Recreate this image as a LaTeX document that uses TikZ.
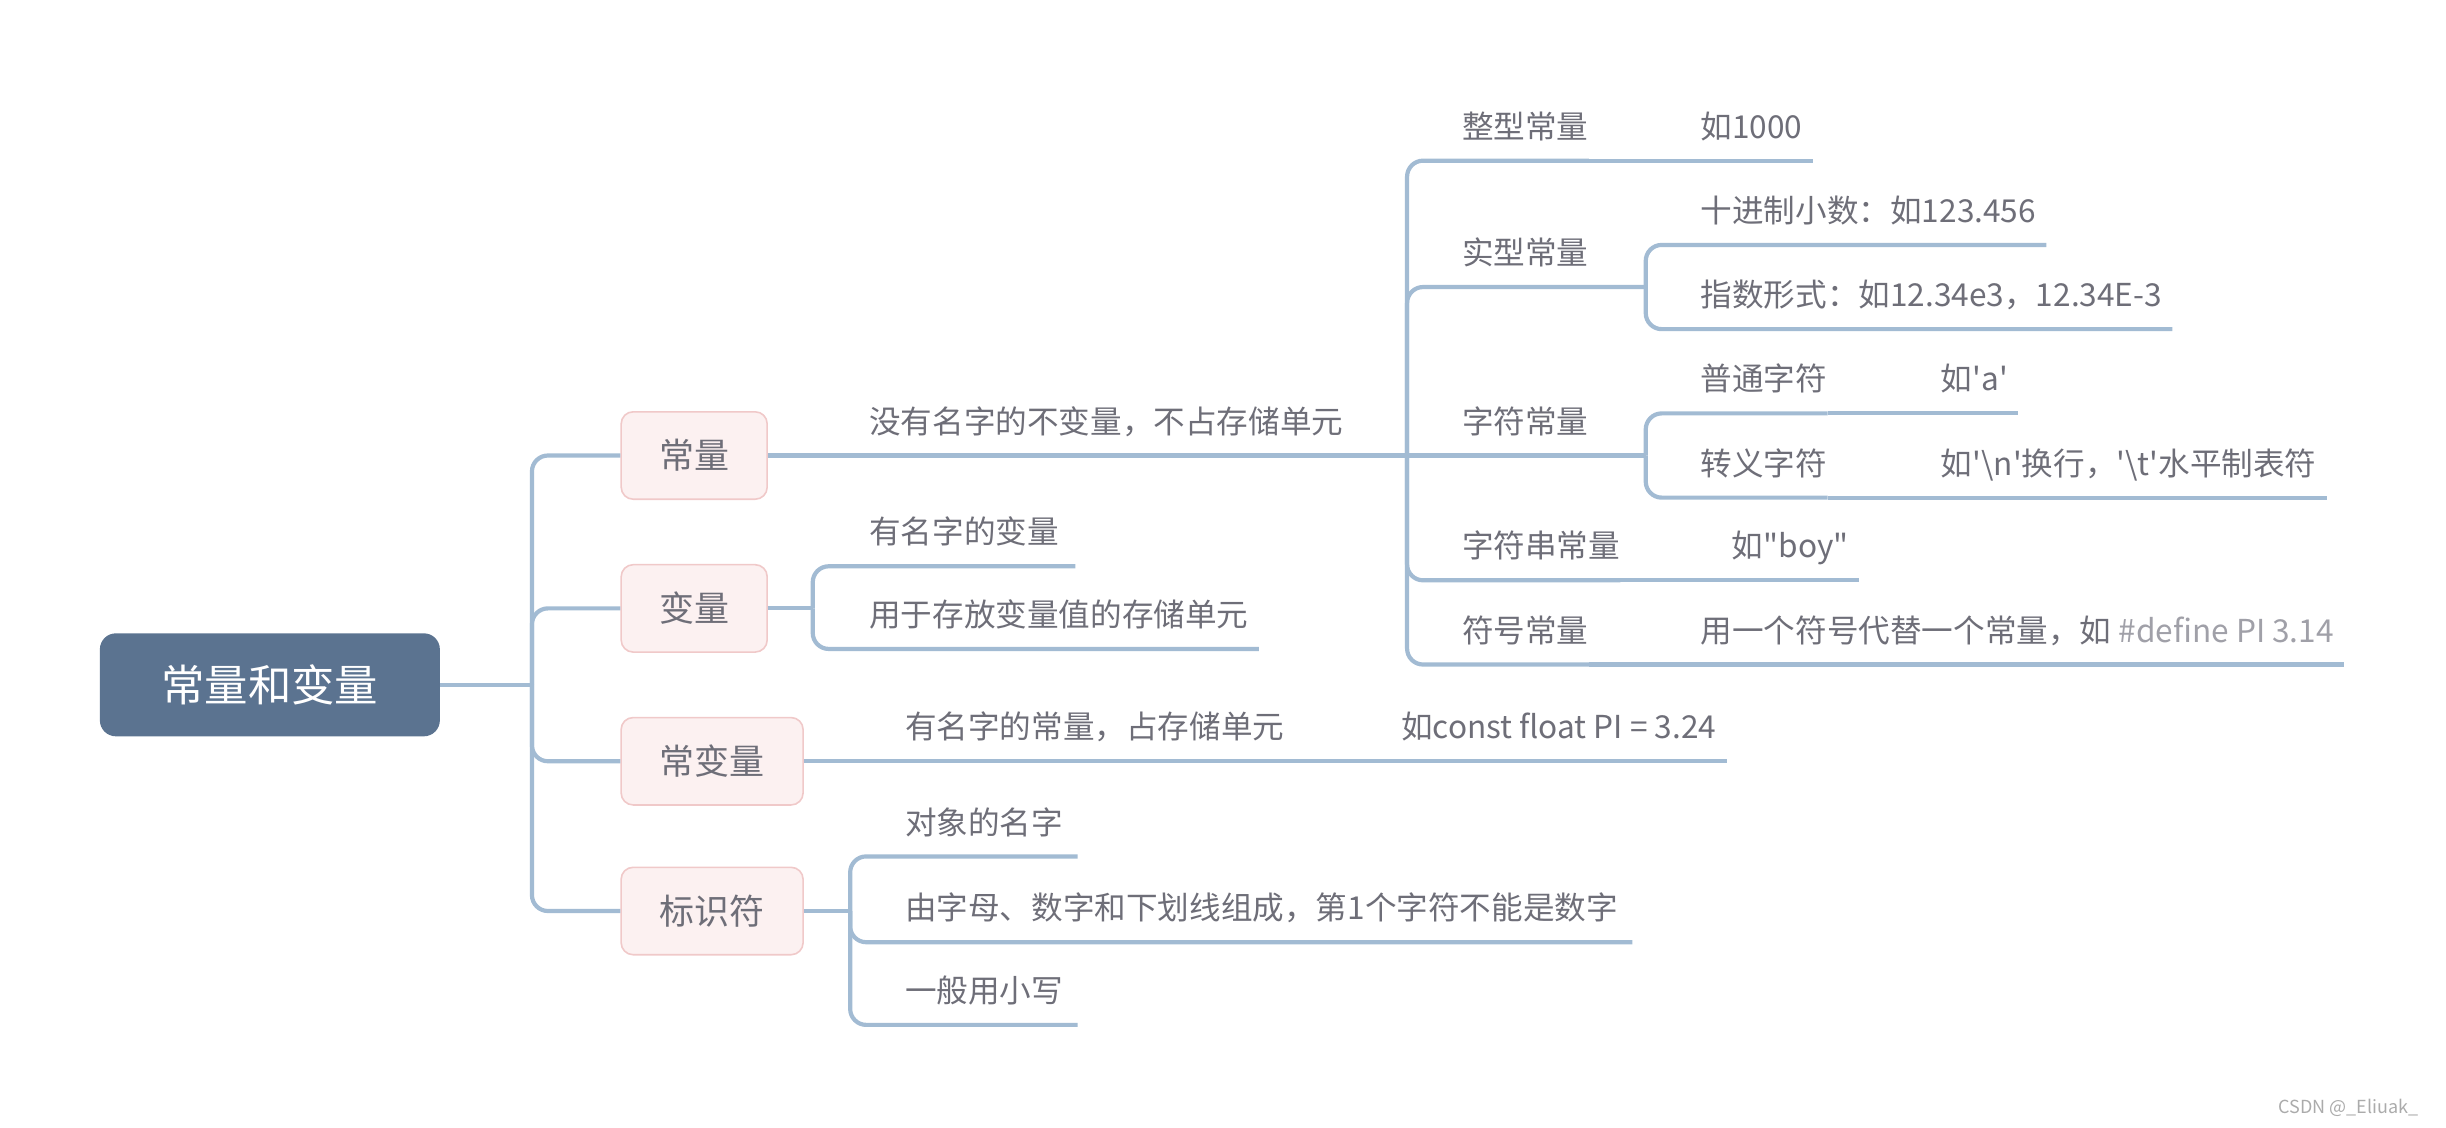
\documentclass[tikz,border=0pt]{standalone}
\usepackage{fontspec}
\newfontfamily\cjk{Noto Sans CJK SC}
\usetikzlibrary{positioning}
\definecolor{rootc}{HTML}{5B7390}
\definecolor{boxc}{HTML}{FCF1F1}
\definecolor{boxline}{HTML}{F0C9C9}
\definecolor{linec}{HTML}{A2BBD3}
\definecolor{txtc}{HTML}{6E6E78}
\definecolor{defc}{HTML}{A0A0A8}
\definecolor{markc}{HTML}{ABABAB}
\tikzset{
  elbow/.style={rounded corners=8pt, to path={|- (\tikztotarget)}},
}

\begin{document}
\begin{tikzpicture}[x=0.78pt,y=-0.78pt]
      \useasboundingbox (0,0) rectangle (1568,723);
      % root
      \node[fill=rootc, rounded corners=8pt, minimum width=170pt, minimum height=51.5pt,
            text=white, font=\cjk\fontsize{21.7}{26}\selectfont] (root) at (173,439) {常量和变量};
      % main branches
      \begin{scope}[every node/.style={fill=boxc,draw=boxline,line width=0.8pt,rounded corners=6pt,
            minimum width=73pt,minimum height=43.7pt,text=txtc,font=\cjk\fontsize{17.5}{21}\selectfont}]
        \node (cl) at (445,292) {常量};
        \node (bl) at (445,390) {变量};
        \node[minimum width=91pt] (cbl) at (456.5,488) {常变量};
        \node[minimum width=91pt] (bsf) at (456.5,584) {标识符};
      \end{scope}
      % junctions
      \coordinate (jr) at (341,439);
      \coordinate (j1) at (902,292);
      \coordinate (j2) at (1055,184);
      \coordinate (j3) at (1055,292);
      \coordinate (jb) at (521,390);
      \coordinate (jbs) at (545,584);
      % leaves
      \begin{scope}[every node/.style={anchor=south west,inner sep=0pt,text depth=11pt,text=txtc,
            font=\cjk\fontsize{15.8}{19}\selectfont}]
        \node (cl1) at (557,292) {没有名字的不变量，不占存储单元};
        \node (zx) at (937,103) {整型常量};
        \node (zxv) at (1090,103) {如1000};
        \node (sx) at (937,184) {实型常量};
        \node (sx1) at (1090,157) {十进制小数：如123.456};
        \node (sx2) at (1090,211) {指数形式：如12.34e3，12.34E-3};
        \node (zf) at (937,292) {字符常量};
        \node (pt) at (1090,265) {普通字符};
        \node (ptv) at (1244,265) {如'a'};
        \node (zy) at (1090,319) {转义字符};
        \node (zyv) at (1244,319) {如'\textbackslash n'换行，'\textbackslash t'水平制表符};
        \node (zc) at (937,372) {字符串常量};
        \node (zcv) at (1110,372) {如"boy"};
        \node (fh) at (937,426) {符号常量};
        \node (fhv) at (1090,426) {用一个符号代替一个常量，如 {\color{defc}\#define PI 3.14}};
        \node (bl1) at (557,363) {有名字的变量};
        \node (bl2) at (557,416) {用于存放变量值的存储单元};
        \node (cb1) at (580,488) {有名字的常量，占存储单元};
        \node (cbv) at (898,488) {如const float PI = 3.24};
        \node (bs1) at (580,549) {对象的名字};
        \node (bs2) at (580,604) {由字母、数字和下划线组成，第1个字符不能是数字};
        \node (bs3) at (580,657) {一般用小写};
      \end{scope}
      % connectors
      \begin{scope}[every edge/.style={draw=linec,line width=2.1pt}]
        \path (root.east) edge (jr);
        \path (jr) edge[elbow] (cl.west);
        \path (jr) edge[elbow] (bl.west);
        \path (jr) edge[elbow] (cbl.west);
        \path (jr) edge[elbow] (bsf.west);
        % constants
        \path (cl.east) edge (j1);
        \path (j1) edge[elbow] (zx.south east);
        \path (zx.south east) edge ([xshift=5pt]zxv.south east);
        \path (j1) edge[elbow] (j2);
        \path (j2) edge[elbow] ([xshift=5pt]sx1.south east);
        \path (j2) edge[elbow] ([xshift=5pt]sx2.south east);
        \path (j1) edge (j3);
        \path (j3) edge[elbow] (pt.south east);
        \path (pt.south east) edge ([xshift=5pt]ptv.south east);
        \path (j3) edge[elbow] (zy.south east);
        \path (zy.south east) edge ([xshift=5pt]zyv.south east);
        \path (j1) edge[elbow] (zc.south east);
        \path (zc.south east) edge ([xshift=5pt]zcv.south east);
        \path (j1) edge[elbow] (fh.south east);
        \path (fh.south east) edge ([xshift=5pt]fhv.south east);
        % variables
        \path (bl.east) edge (jb);
        \path (jb) edge[elbow] ([xshift=8pt]bl1.south east);
        \path (jb) edge[elbow] ([xshift=5pt]bl2.south east);
        % const variables
        \path (cbl.east) edge (cb1.south east);
        \path (cb1.south east) edge ([xshift=5pt]cbv.south east);
        % identifiers
        \path (bsf.east) edge (jbs);
        \path (jbs) edge[elbow] ([xshift=7pt]bs1.south east);
        \path (jbs) edge[elbow] ([xshift=7pt]bs2.south east);
        \path (jbs) edge[elbow] ([xshift=7pt]bs3.south east);
      \end{scope}
      \node[anchor=east,text=markc,font=\cjk\fontsize{9}{11}\selectfont] (wm) at (1555,710) {CSDN @\_Eliuak\_};
    \end{tikzpicture}
\end{document}
